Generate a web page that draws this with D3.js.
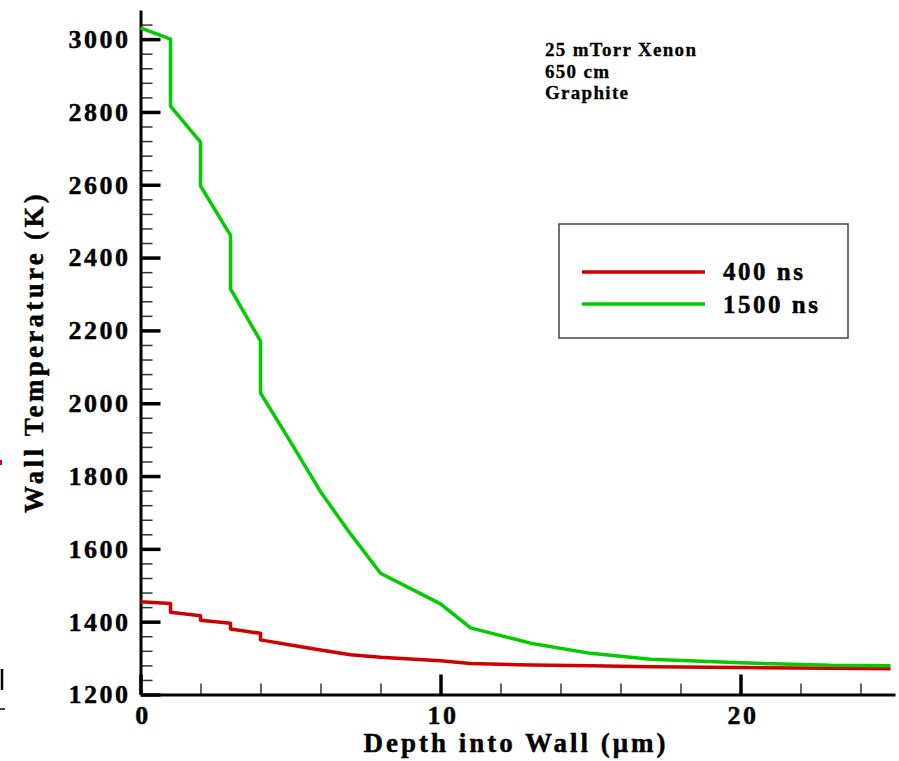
<!DOCTYPE html>
<meta charset="utf-8">
<script src="https://d3js.org/d3.v7.min.js"></script>
<style>
  body { margin: 0; background: #fff; }
  svg text { font-family: "Liberation Serif", "Times New Roman", serif; font-weight: bold; fill: #000;
             stroke: #000; stroke-width: 0.45px; }
</style>
<div id="chart"></div>
<script>

// ---- data ----
const depth    = [0, 1, 1, 2, 2, 3, 3, 4, 4, 5, 6, 7, 8, 10, 11, 13, 15, 17, 20, 23, 25];
const temp400  = [1455, 1450, 1426, 1416, 1404, 1396, 1380, 1368, 1350, 1336, 1322, 1309, 1302, 1293, 1285, 1281, 1279, 1276, 1274, 1272, 1271];
const temp1500 = [3031, 3000, 2816, 2717, 2597, 2461, 2314, 2171, 2028, 1894, 1757, 1641, 1533, 1449, 1383, 1341, 1313, 1297, 1287, 1280, 1279];

const seriesNames = ["400 ns", "1500 ns"];
const yMajor = [1200, 1400, 1600, 1800, 2000, 2200, 2400, 2600, 2800, 3000];
const xMajor = [0, 10, 20];
const notes = ["25 mTorr Xenon", "650 cm", "Graphite"];

const W = 899, H = 761;
const colors = ["#d10000", "#00cc00"];

const svg = d3.select("#chart").append("svg")
  .attr("width", W).attr("height", H);

// scales
const x = d3.scaleLinear().domain([0, 25.15]).range([140.5, 895]);
const y = d3.scaleLinear().domain([1200, 3080]).range([694.5, 10]);

// ---- axes ----
// minor ticks first (thin, grey-ish)
svg.append("g")
  .attr("transform", `translate(${x(0)},0)`)
  .call(d3.axisLeft(y).tickValues(d3.range(1240, 3080, 40).filter(v => v % 200)).tickSize(-12).tickFormat(""))
  .call(g => g.select(".domain").remove())
  .call(g => g.selectAll("line").attr("stroke", "#333").attr("stroke-width", 1.5));

svg.append("g")
  .attr("transform", `translate(0,${y(1200)})`)
  .call(d3.axisBottom(x).tickValues(d3.range(2, 25, 2).filter(v => v % 10)).tickSize(-11).tickFormat(""))
  .call(g => g.select(".domain").remove())
  .call(g => g.selectAll("line").attr("stroke", "#333").attr("stroke-width", 1.5));

// y axis major
svg.append("g")
  .attr("transform", `translate(${x(0)},0)`)
  .call(d3.axisLeft(y).tickValues(yMajor).tickFormat(d3.format("d"))
    .tickSizeInner(-20).tickSizeOuter(0).tickPadding(10))
  .call(g => g.select(".domain").attr("stroke-width", 3))
  .call(g => g.selectAll(".tick line").attr("stroke-width", 3.5))
  .call(g => g.selectAll("text")
    .attr("font-size", 26)
    .attr("font-family", null)
    .style("letter-spacing", "2.5px"));

// x axis major
svg.append("g")
  .attr("transform", `translate(0,${y(1200)})`)
  .call(d3.axisBottom(x).tickValues(xMajor).tickFormat(d3.format("d"))
    .tickSizeInner(-20).tickSizeOuter(0).tickPadding(11))
  .call(g => g.select(".domain").attr("stroke-width", 3))
  .call(g => g.selectAll(".tick line").attr("stroke-width", 3.5))
  .call(g => g.selectAll("text")
    .attr("font-size", 26)
    .attr("font-family", null)
    .attr("dx", "2px")
    .style("letter-spacing", "2.5px"));

// axis titles
svg.append("text")
  .attr("transform", "translate(43,352) rotate(-90)")
  .attr("text-anchor", "middle")
  .attr("font-size", 27)
  .style("letter-spacing", "3.3px")
  .text("Wall Temperature (K)");

svg.append("text")
  .attr("x", 516)
  .attr("y", 752)
  .attr("text-anchor", "middle")
  .attr("font-size", 27)
  .style("letter-spacing", "3px")
  .text("Depth into Wall (μm)");

// ---- curves ----
const line = d3.line()
  .x((d, i) => x(depth[i]))
  .y(d => y(d));

[temp400, temp1500].forEach((vals, k) => {
  svg.append("path")
    .datum(vals)
    .attr("fill", "none")
    .attr("stroke", colors[k])
    .attr("stroke-width", 3.5)
    .attr("stroke-linejoin", "round")
    .attr("d", line);
});

// ---- annotation ----
svg.append("g")
  .selectAll("text")
  .data(notes)
  .join("text")
    .attr("x", 545)
    .attr("y", (d, i) => 56 + i * 21.5)
    .attr("font-size", 19)
    .style("letter-spacing", "1.3px")
    .style("stroke-width", "0.3px")
    .text(d => d);

// ---- legend ----
const legend = svg.append("g");
legend.append("rect")
  .attr("x", 559).attr("y", 224)
  .attr("width", 289).attr("height", 114)
  .attr("fill", "none")
  .attr("stroke", "#444")
  .attr("stroke-width", 1.5);

legend.selectAll("line")
  .data(seriesNames)
  .join("line")
    .attr("x1", 582).attr("x2", 705)
    .attr("y1", (d, i) => 272 + i * 32)
    .attr("y2", (d, i) => 272 + i * 32)
    .attr("stroke", (d, i) => colors[i])
    .attr("stroke-width", 3.5);

legend.selectAll("text")
  .data(seriesNames)
  .join("text")
    .attr("x", 723)
    .attr("y", (d, i) => 280 + i * 32.5)
    .attr("font-size", 25)
    .style("letter-spacing", "2.5px")
    .text(d => d);

// ---- stray marks at the left edge (cropped neighbour figure) ----
const edge = svg.append("g");
edge.append("line").attr("x1", 1).attr("x2", 1).attr("y1", 460).attr("y2", 465)
  .attr("stroke", "#e00000").attr("stroke-width", 2);
edge.append("line").attr("x1", 2).attr("x2", 2).attr("y1", 669).attr("y2", 690)
  .attr("stroke", "#000").attr("stroke-width", 2.5);
edge.append("line").attr("x1", 0).attr("x2", 5).attr("y1", 709).attr("y2", 709)
  .attr("stroke", "#000").attr("stroke-width", 1.5);

</script>
